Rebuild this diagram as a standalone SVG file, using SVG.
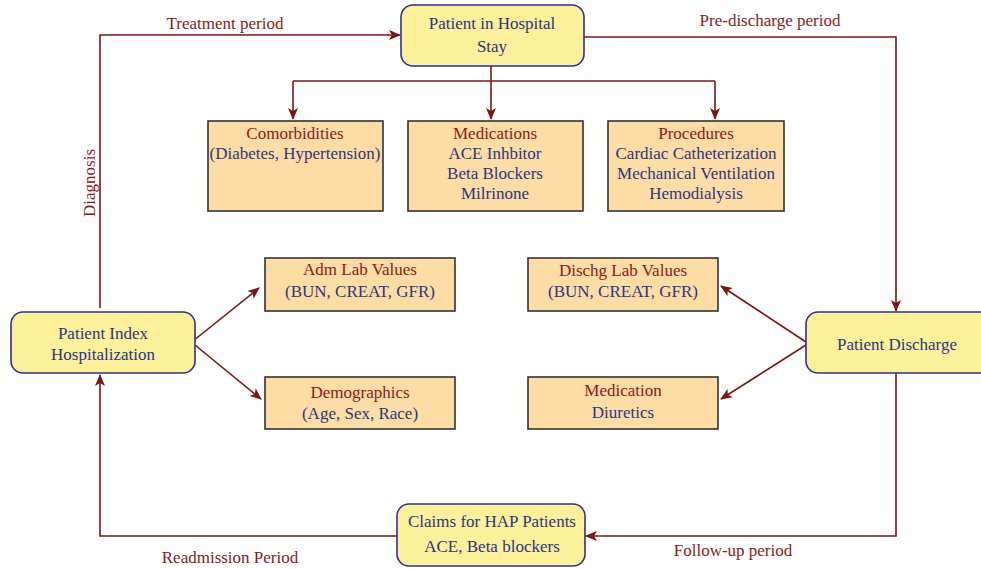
<svg xmlns="http://www.w3.org/2000/svg" width="981" height="569" viewBox="0 0 981 569">
<style>
.term{fill:#fdf09b;stroke:#2e3192;stroke-width:1.6}
.box{fill:#fddca5;stroke:#333;stroke-width:1.6}
text{font-family:"Liberation Serif","Times New Roman",serif;font-size:17px;text-anchor:middle}
.b{fill:#2e3580}
.r{fill:#8b1a1a}
.c{fill:none;stroke:#7f1416;stroke-width:1.6}
</style>
<defs>
<marker id="ah" viewBox="0 0 12 10" refX="11" refY="5" markerWidth="12" markerHeight="10" markerUnits="userSpaceOnUse" orient="auto">
<path d="M0,0 L12,5 L0,10 L3,5 Z" fill="#7f1416"/>
</marker>
</defs>
<g id="connectors">
<path class="c" d="M100,308 V35 H400" marker-end="url(#ah)"/>
<path class="c" d="M584,37 H896 V311" marker-end="url(#ah)"/>
<path class="c" d="M491,66 V119" marker-end="url(#ah)"/>
<path class="c" d="M293,81 H715"/>
<path class="c" d="M293,81 V119" marker-end="url(#ah)"/>
<path class="c" d="M715,81 V119" marker-end="url(#ah)"/>
<path class="c" d="M193,341 L259,288" marker-end="url(#ah)"/>
<path class="c" d="M195,345 L261,399" marker-end="url(#ah)"/>
<path class="c" d="M806,342 L721,286" marker-end="url(#ah)"/>
<path class="c" d="M806,345 L721,399" marker-end="url(#ah)"/>
<path class="c" d="M896,373 V536 H586" marker-end="url(#ah)"/>
<path class="c" d="M397,536 H100 V375" marker-end="url(#ah)"/>
<text class="r" x="225" y="29">Treatment period</text>
<text class="r" x="770" y="26">Pre-discharge period</text>
<text class="r" transform="translate(95,183) rotate(-90)">Diagnosis</text>
<text class="r" x="230" y="563">Readmission Period</text>
<text class="r" x="733" y="556">Follow-up period</text>
</g>
<g id="hospital">
<rect class="term" x="401" y="5" width="183" height="61" rx="12"/>
<text class="b" x="492" y="29">Patient in Hospital</text>
<text class="b" x="492" y="52">Stay</text>
</g>
<g id="comorbidities">
<rect class="box" x="208" y="121" width="175" height="90"/>
<text class="r" x="295" y="139">Comorbidities</text>
<text class="b" x="295" y="159">(Diabetes, Hypertension)</text>
</g>
<g id="medications">
<rect class="box" x="408" y="121" width="175" height="90"/>
<text class="r" x="495" y="139">Medications</text>
<text class="b" x="495" y="159">ACE Inhbitor</text>
<text class="b" x="495" y="179">Beta Blockers</text>
<text class="b" x="495" y="199">Milrinone</text>
</g>
<g id="procedures">
<rect class="box" x="608" y="121" width="176" height="90"/>
<text class="r" x="696" y="139">Procedures</text>
<text class="b" x="696" y="159">Cardiac Catheterization</text>
<text class="b" x="696" y="179">Mechanical Ventilation</text>
<text class="b" x="696" y="199">Hemodialysis</text>
</g>
<g id="index">
<rect class="term" x="11" y="312" width="184" height="61" rx="12"/>
<text class="b" x="103" y="339">Patient Index</text>
<text class="b" x="103" y="360">Hospitalization</text>
</g>
<g id="admlab">
<rect class="box" x="265" y="258" width="190" height="53"/>
<text class="r" x="360" y="275">Adm Lab Values</text>
<text class="b" x="360" y="297">(BUN, CREAT, GFR)</text>
</g>
<g id="demographics">
<rect class="box" x="265" y="377" width="190" height="52"/>
<text class="r" x="360" y="398">Demographics</text>
<text class="b" x="360" y="419">(Age, Sex, Race)</text>
</g>
<g id="dischlab">
<rect class="box" x="528" y="258" width="190" height="53"/>
<text class="r" x="623" y="276">Dischg Lab Values</text>
<text class="b" x="623" y="297">(BUN, CREAT, GFR)</text>
</g>
<g id="medication">
<rect class="box" x="528" y="377" width="190" height="52"/>
<text class="r" x="623" y="396">Medication</text>
<text class="b" x="623" y="418">Diuretics</text>
</g>
<g id="discharge">
<rect class="term" x="806" y="312" width="188" height="61" rx="12"/>
<text class="b" x="897" y="350">Patient Discharge</text>
</g>
<g id="claims">
<rect class="term" x="397" y="504" width="188" height="62" rx="12"/>
<text class="b" x="492" y="527">Claims for HAP Patients</text>
<text class="b" x="492" y="552">ACE, Beta blockers</text>
</g>
</svg>
